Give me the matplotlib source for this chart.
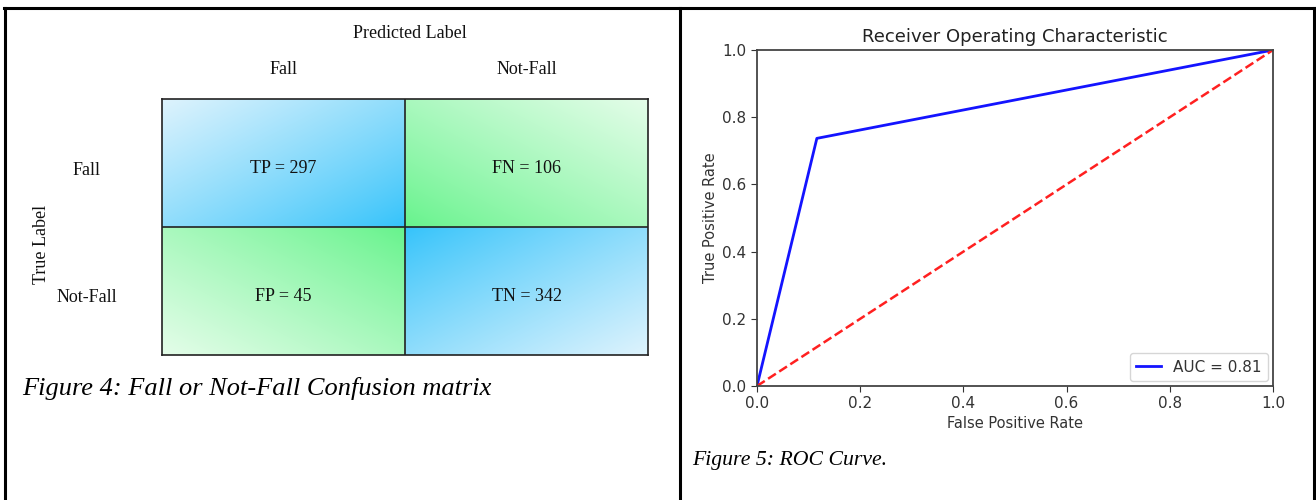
import numpy as np
import matplotlib
matplotlib.use("Agg")
import matplotlib.pyplot as plt
from matplotlib.lines import Line2D
from matplotlib.colors import to_rgb

# ---------------- data ----------------
categories = ["Fall", "Not-Fall"]
cm_names = [["TP", "FN"], ["FP", "TN"]]
cm_values = [[297, 106], [45, 342]]
fpr = [0.0, 0.116, 1.0]
tpr = [0.0, 0.737, 1.0]
auc_value = 0.81
chance_x = [0.0, 1.0]
chance_y = [0.0, 1.0]
ticks = [0.0, 0.2, 0.4, 0.6, 0.8, 1.0]

W, H = 1316, 500
fig = plt.figure(figsize=(W / 100, H / 100), dpi=100)
fig.patch.set_facecolor("white")

def fx(px):
    return px / W

def fy(py):
    return 1 - py / H

# ---------------- page borders ----------------
for (x0, y0, x1, y1) in [(4, 8, 1314, 8), (4.5, 8, 4.5, 500), (680, 8, 680, 500), (1314, 8, 1314, 500)]:
    fig.add_artist(Line2D([fx(x0), fx(x1)], [fy(y0), fy(y1)], color="black", lw=2.2,
                          transform=fig.transFigure, solid_capstyle="projecting"))

# ---------------- confusion matrix ----------------
serif = ["Liberation Serif", "DejaVu Serif"]
gx0, gx1, gy0, gy1 = 162, 648, 99, 355
ax = fig.add_axes([fx(gx0), fy(gy1), fx(gx1) - fx(gx0), (gy1 - gy0) / H])

blue_dark, blue_light = np.array(to_rgb("#34c3fa")), np.array(to_rgb("#def3fd"))
green_dark, green_light = np.array(to_rgb("#66f38c")), np.array(to_rgb("#e4fde9"))

n = 200
uu, vv = np.meshgrid(np.linspace(0, 1, n), np.linspace(0, 1, n))
for i in range(2):
    for j in range(2):
        dark, light = (blue_dark, blue_light) if i == j else (green_dark, green_light)
        # dark corner is the one touching the grid centre
        u = uu if j == 1 else 1 - uu
        v = vv if i == 1 else 1 - vv
        t = np.clip((u + v) / 2.0, 0, 1) ** 0.9
        img = dark[None, None, :] + (light - dark)[None, None, :] * t[..., None]
        ax.imshow(img, extent=[j, j + 1, i + 1, i], aspect="auto", interpolation="bilinear", zorder=1)
        ax.text(j + 0.5, i + 0.54, f"{cm_names[i][j]} = {cm_values[i][j]}", ha="center", va="center",
                fontsize=13, family=serif, color="#111111", zorder=3)

ax.set_xlim(0, 2)
ax.set_ylim(2, 0)
ax.axhline(1, color="#222222", lw=1.2, zorder=2)
ax.axvline(1, color="#222222", lw=1.2, zorder=2)
for s in ax.spines.values():
    s.set_color("#222222")
    s.set_linewidth(1.2)
ax.set_xticks([])
ax.set_yticks([])

# column / row labels
for j, c in enumerate(categories):
    xpix = gx0 + (gx1 - gx0) * (j + 0.5) / 2
    fig.text(fx(xpix), fy(70), c, ha="center", va="center", fontsize=13, family=serif, color="#111111")
for i, c in enumerate(categories):
    ypix = gy0 + (gy1 - gy0) * (i + 0.5) / 2 + 7
    fig.text(fx(87), fy(ypix), c, ha="center", va="center", fontsize=13, family=serif, color="#111111")
fig.text(fx(410), fy(33), "Predicted Label", ha="center", va="center", fontsize=13, family=serif, color="#111111")
fig.text(fx(42), fy(244), "True Label", ha="center", va="center", rotation=90, fontsize=13, family=serif,
         color="#111111")
fig.text(fx(22), fy(388), "Figure 4: Fall or Not-Fall Confusion matrix", ha="left", va="center",
         fontsize=19, family=serif, style="italic", color="black")

# ---------------- ROC curve ----------------
rx0, rx1, ry0, ry1 = 757, 1273, 50, 386
ax2 = fig.add_axes([fx(rx0), fy(ry1), fx(rx1) - fx(rx0), (ry1 - ry0) / H])
ax2.plot(fpr, tpr, color="#1414ff", lw=2, label=f"AUC = {auc_value:.2f}")
ax2.plot(chance_x, chance_y, linestyle="--", lw=1.8, color="#ff2020")
ax2.set_xlim(0, 1)
ax2.set_ylim(0, 1)
ax2.set_xticks(ticks)
ax2.set_yticks(ticks)
ax2.set_xticklabels([f"{t:.1f}" for t in ticks])
ax2.set_yticklabels([f"{t:.1f}" for t in ticks])
ax2.tick_params(labelsize=11, colors="#333333", length=4)
for s in ax2.spines.values():
    s.set_color("#444444")
    s.set_linewidth(1.3)
ax2.set_title("Receiver Operating Characteristic", fontsize=13, color="#222222", pad=6)
ax2.set_xlabel("False Positive Rate", fontsize=10.5, color="#333333", labelpad=3)
ax2.set_ylabel("True Positive Rate", fontsize=10.5, color="#333333", labelpad=3)
leg = ax2.legend(loc="lower right", fontsize=11, handlelength=1.6, borderaxespad=0.35)
for t in leg.get_texts():
    t.set_color("#333333")

fig.text(fx(692), fy(460), "Figure 5: ROC Curve.", ha="left", va="center",
         fontsize=15.7, family=serif, style="italic", color="black")

fig.savefig("out.png", dpi=100, facecolor="white")
